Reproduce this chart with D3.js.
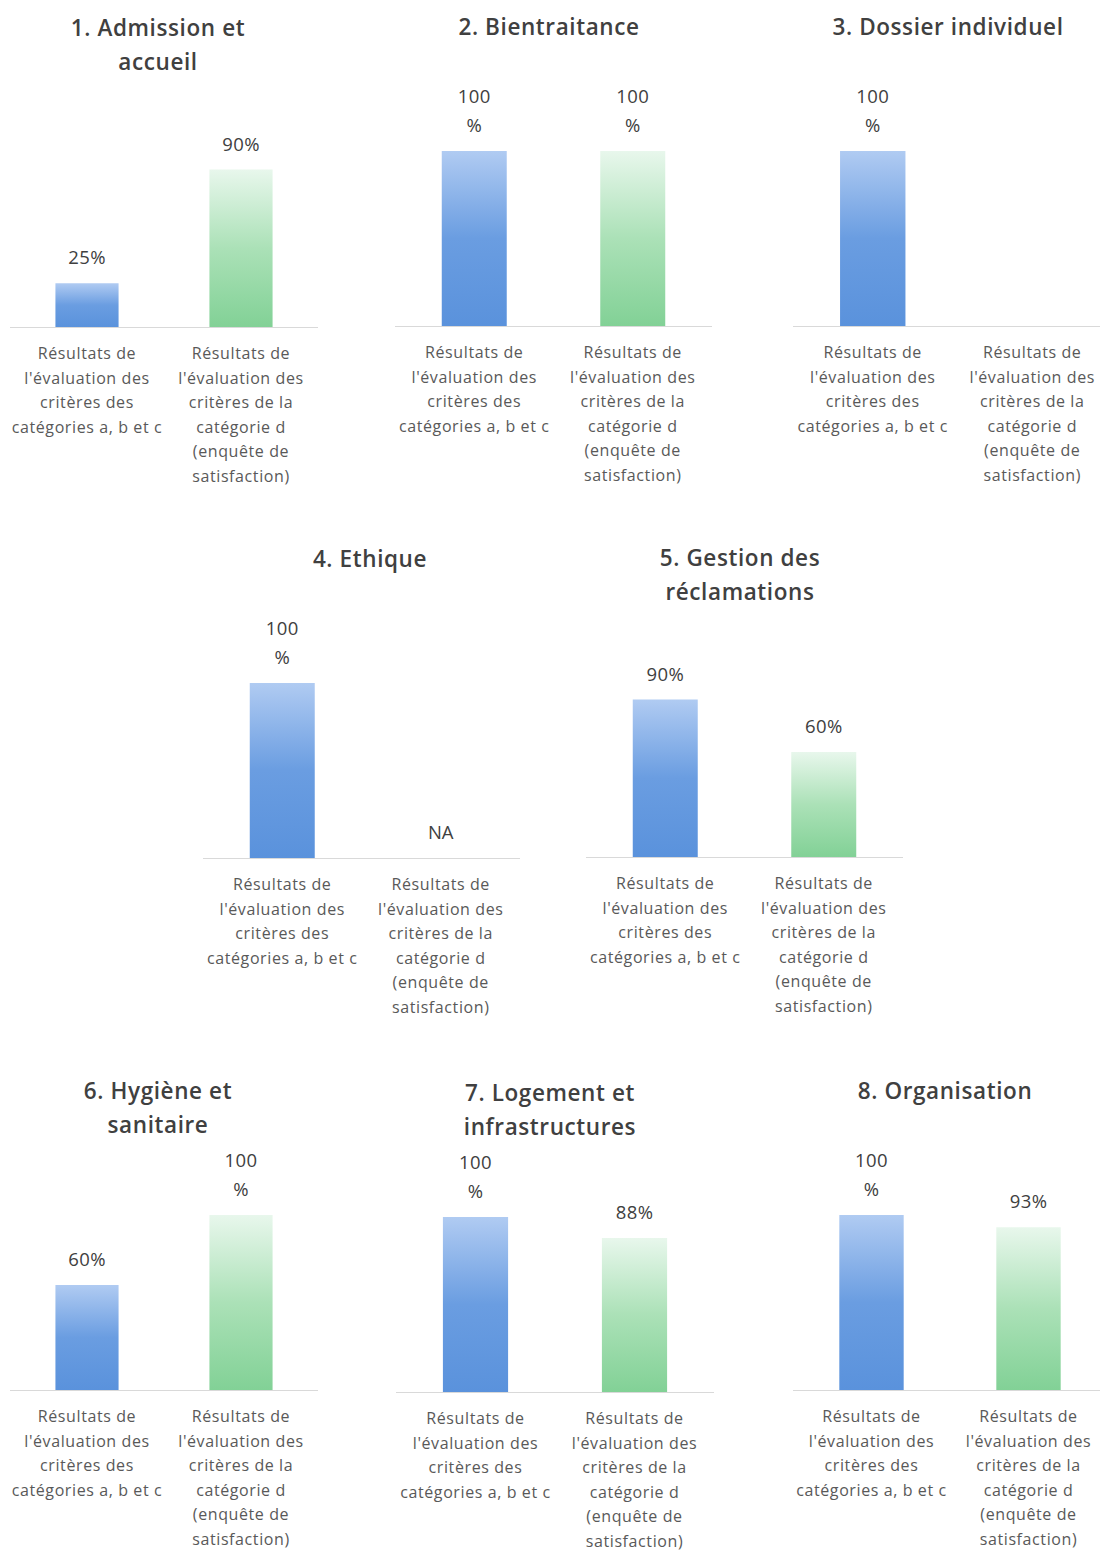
<!DOCTYPE html>
<html><head><meta charset="utf-8">
<script src="https://cdn.jsdelivr.net/npm/d3@7"></script>
<style>body{margin:0;background:#fff}svg{display:block}</style>
</head><body>
<svg id="c" width="1102" height="1551"></svg>
<script>
// ---- data ----
const titles = ["1. Admission et\naccueil","2. Bientraitance","3. Dossier individuel","4. Ethique","5. Gestion des\nréclamations","6. Hygiène et\nsanitaire","7. Logement et\ninfrastructures","8. Organisation"];
const categories = ["Résultats de\nl'évaluation des\ncritères des\ncatégories a, b et c","Résultats de\nl'évaluation des\ncritères de la\ncatégorie d\n(enquête de\nsatisfaction)"];
const valuesABC = [25,100,100,100,90,60,100,100];
const valuesD = [90,100,null,"NA",60,100,88,93];

// ---- layout ----
const layout = [
  {x0:10,x1:318,base:327,tx:158},
  {x0:395,x1:712,base:326,tx:549},
  {x0:793,x1:1112,base:326,tx:948,lineEnd:1100},
  {x0:203,x1:520,base:858,tx:370},
  {x0:586,x1:903,base:857,tx:740},
  {x0:10,x1:318,base:1390,tx:158},
  {x0:396,x1:714,base:1392,tx:550},
  {x0:793,x1:1107,base:1390,tx:945,lineEnd:1100}
];
const svg = d3.select("#c");
const defs = svg.append("defs");
function grad(id, top, mid, bot){
  const g = defs.append("linearGradient").attr("id",id).attr("x1",0).attr("y1",0).attr("x2",0).attr("y2",1);
  g.append("stop").attr("offset","0%").attr("stop-color",top);
  g.append("stop").attr("offset","50%").attr("stop-color",mid);
  g.append("stop").attr("offset","100%").attr("stop-color",bot);
}
grad("gBlue","#b0cbf2","#6a9de1","#5a92dc");
grad("gGreen","#e8f7ec","#abe1b7","#82d196");
const fills = ["url(#gBlue)","url(#gGreen)"];
const font = "'Open Sans', sans-serif";
const textCol = "#404040";

titles.forEach((t,i)=>{
  const L = layout[i];
  const g = svg.append("g");
  const x = d3.scaleBand().domain([0,1]).range([L.x0,L.x1]).paddingInner(0.59).paddingOuter(0.295);
  const y = d3.scaleLinear().domain([0,100]).range([L.base, L.base-175]);
  // title
  const tl = t.split("\n");
  g.append("text").attr("x",L.tx).attr("y",L.base-291).attr("text-anchor","middle")
    .attr("font-family",font).attr("font-size",22.5).attr("font-weight",600).attr("letter-spacing",0.6).attr("fill",textCol)
    .selectAll("tspan").data(tl).join("tspan").attr("x",L.tx).attr("dy",(d,j)=>j?34:0).text(d=>d);
  // baseline
  g.append("line").attr("x1",L.x0).attr("x2",L.lineEnd||L.x1).attr("y1",L.base+0.5).attr("y2",L.base+0.5)
    .attr("stroke","#d9d9d9").attr("stroke-width",1);
  const vals = [valuesABC[i], valuesD[i]];
  vals.forEach((v,k)=>{
    const cx = x(k)+x.bandwidth()/2;
    if (typeof v === "number"){
      g.append("rect").attr("x",x(k)).attr("width",x.bandwidth()).attr("y",y(v)).attr("height",y(0)-y(v)).attr("fill",fills[k]);
      const lab = v===100 ? ["100","%"] : [v+"%"];
      const tt = g.append("text").attr("text-anchor","middle").attr("font-family",font).attr("font-size",18.5).attr("letter-spacing",0.4).attr("fill",textCol);
      lab.forEach((s,j)=>{
        tt.append("tspan").attr("x",cx).attr("y",y(v)-19-(lab.length-1-j)*29).text(s);
      });
    } else if (v === "NA"){
      g.append("text").attr("x",cx).attr("y",L.base-19).attr("text-anchor","middle").attr("font-family",font).attr("font-size",18.5).attr("fill",textCol).text("NA");
    }
    // category label
    g.append("text").attr("text-anchor","middle").attr("font-family",font).attr("font-size",16).attr("letter-spacing",0.6).attr("fill","#595959")
      .selectAll("tspan").data(categories[k].split("\n")).join("tspan")
      .attr("x",cx).attr("y",(d,j)=>L.base+32+j*24.6).text(d=>d);
  });
});
</script>
</body></html>
